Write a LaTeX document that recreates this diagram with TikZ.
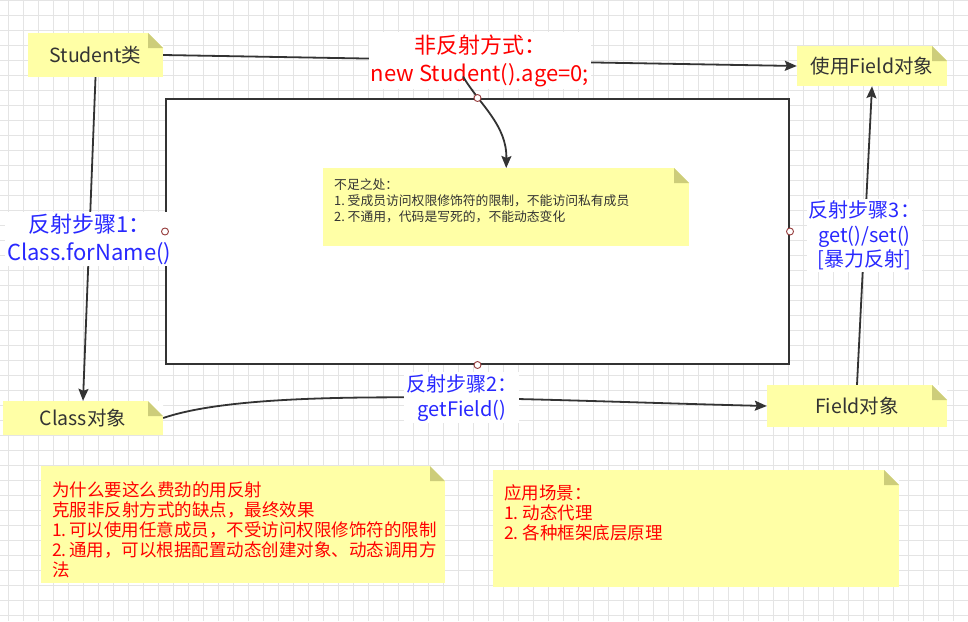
\documentclass[tikz,border=0pt]{standalone}
\usepackage{fontspec}
\setmainfont{Noto Sans CJK SC}
\usetikzlibrary{arrows.meta,calc}
\definecolor{notefill}{RGB}{255,255,166}
\definecolor{notefold}{RGB}{205,205,122}
\definecolor{inkgray}{RGB}{51,51,51}
\definecolor{gridgray}{RGB}{228,228,228}
\definecolor{portred}{RGB}{150,60,60}
\definecolor{lblred}{RGB}{255,0,0}
\definecolor{lblblue}{RGB}{40,40,255}
\tikzset{
  gridline/.style={draw=gridgray,line width=0.9pt},
  note/.style={rectangle,fill=notefill,inner sep=0pt,text=inkgray,
    font=\fontsize{19.5}{23}\selectfont,
    path picture={
      \fill[white] ([xshift=-15pt]path picture bounding box.north east)
        -- (path picture bounding box.north east) -- ++(0pt,-15pt) -- cycle;
      \fill[notefold] ([xshift=-15pt]path picture bounding box.north east)
        -- ++(0pt,-15pt) -- ++(15pt,0pt) -- cycle;}},
  smallnote/.style={font=\fontsize{12.8}{16}\selectfont},
  bignote/.style={font=\fontsize{17.5}{20}\selectfont,text=lblred},
  frame/.style={rectangle,draw=inkgray,fill=white,line width=2pt,
    minimum width=623pt,minimum height=265pt},
  port/.style={circle,draw=portred,fill=white,line width=0.9pt,
    minimum size=7pt,inner sep=0pt},
  conn/.style={draw=inkgray,line width=1.8pt,
    -{Stealth[length=12pt,width=10pt,inset=2pt]}},
  lbl/.style={fill=white,align=center,inner sep=2pt},
  redlbl/.style={lbl,text=lblred,font=\fontsize{22}{28}\selectfont},
  bluelbl/.style={lbl,text=lblblue,font=\fontsize{21}{27}\selectfont}
}
\begin{document}
\begin{tikzpicture}[x=1pt,y=-1pt]
\useasboundingbox (0,0) rectangle (968,621);
\fill[white] (0,0) rectangle (968,621);
\foreach \gx in {8,23,...,968} {\draw[gridline] (\gx,0) -- (\gx,621);}
\foreach \gy in {0,15,...,621} {\draw[gridline] (0,\gy) -- (968,\gy);}

\node[frame] (frame) at (477.5,231.5) {};

% the four objects
\node[note,minimum width=135pt,minimum height=44pt] (student) at (95.5,55) {Student类};
\node[note,minimum width=150pt,minimum height=40pt] (usefield) at (872,66) {使用Field对象};
\node[note,minimum width=160pt,minimum height=34pt] (classobj) at (83,418) {Class对象};
\node[note,minimum width=180pt,minimum height=42pt] (fieldobj) at (857,406) {Field对象};

% notes
\node[note,smallnote,minimum width=366pt,minimum height=78pt,anchor=north west] (weakness) at (323,168)
  {\parbox[c][78pt][t]{344pt}{\rule{0pt}{21.5pt}不足之处：\\
  1.~受成员访问权限修饰符的限制，不能访问私有成员\\
  2.~不通用，代码是写死的，不能动态变化}};
\node[note,bignote,minimum width=404pt,minimum height=117pt,anchor=north west] (why) at (41,466)
  {\parbox[c][117pt][t]{382pt}{\rule{0pt}{30.5pt}为什么要这么费劲的用反射\\
  克服非反射方式的缺点，最终效果\\
  1.~可以使用任意成员，不受访问权限修饰符的限制\\
  2.~通用，可以根据配置动态创建对象、动态调用方\\
  法}};
\node[note,bignote,minimum width=406pt,minimum height=117pt,anchor=north west] (usage) at (493,470)
  {\parbox[c][117pt][t]{384pt}{\rule{0pt}{29.5pt}应用场景：\\
  1.~动态代理\\
  2.~各种框架底层原理}};

% connectors
\draw[conn] (student.east) -- node[redlbl] (nonref) {非反射方式：\\new Student().age=0;} (usefield.west);
\draw[conn] ([xshift=-17pt,yshift=-16pt]nonref.center) .. controls (480,105) and (507,125) .. (weakness.north);
\draw[conn] (student.south) -- node[bluelbl,font=\fontsize{22}{28}\selectfont] (step1) {反射步骤1：\\Class.forName()} (classobj.north);
\draw[conn] (classobj.east) .. controls (260,385) and (520,400) .. node[bluelbl,pos=0.58,font=\fontsize{20}{25}\selectfont] (step2) {反射步骤2：\\getField()} (fieldobj.west);
\draw[conn] (fieldobj.north) -- node[bluelbl,font=\fontsize{20}{24.5}\selectfont] (step3) {反射步骤3：\\get()/set()\\{[暴力反射]}} (usefield.south);

\foreach \side in {north,south,east,west} {\node[port] (port-\side) at (frame.\side) {};}
\end{tikzpicture}
\end{document}
